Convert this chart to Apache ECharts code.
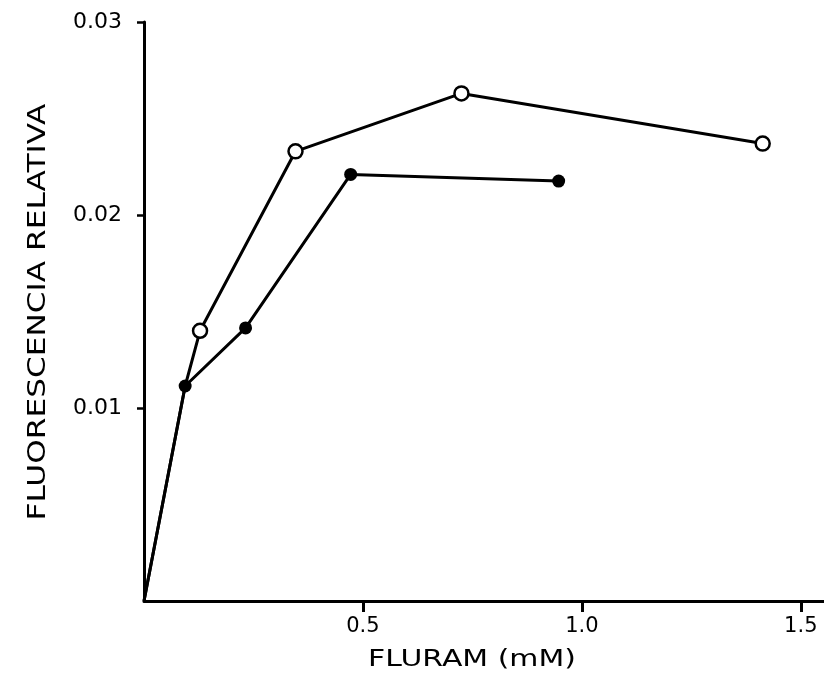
<!DOCTYPE html>
<html>
<head>
<meta charset="utf-8">
<script src="https://cdn.jsdelivr.net/npm/echarts@6/dist/echarts.min.js"></script>
<style>html,body{margin:0;padding:0;background:#fff}#c{width:824px;height:680px}</style>
</head>
<body>
<div id="c"></div>
<script>
// Open circles series (x in mM, y relative fluorescence)
var openX = [0, 0.094, 0.128, 0.346, 0.725, 1.413];
var openY = [0, 0.01114, 0.0140, 0.0233, 0.0263, 0.0237];
// Filled circles series
var filledX = [0, 0.094, 0.232, 0.472, 0.947];
var filledY = [0, 0.01114, 0.01415, 0.0221, 0.02176];
var xTicks = [0.5, 1.0, 1.5];
var yTicks = [0.01, 0.02, 0.03];
var xTickLabels = ['0.5', '1.0', '1.5'];
var yTickLabels = ['0.01', '0.02', '0.03'];
var xTitle = 'FLURAM (mM)';
var yTitle = 'FLUORESCENCIA RELATIVA';

function pairs(xs, ys, hideFirst) {
  return xs.map(function (x, i) {
    var d = { value: [x, ys[i]] };
    if (i < hideFirst) d.symbol = 'none';
    return d;
  });
}

var font = 'DejaVu Sans';
var chart = echarts.init(document.getElementById('c'));
chart.setOption({
  animation: false,
  backgroundColor: '#fff',
  grid: { left: 144, top: 22, right: 0, bottom: 79 },
  xAxis: {
    type: 'value', min: 0, max: 1.553, interval: 0.5,
    splitLine: { show: false },
    axisLine: { lineStyle: { color: '#000', width: 3 } },
    axisTick: { customValues: xTicks, length: 11, lineStyle: { color: '#000', width: 3 } },
    axisLabel: {
      customValues: xTicks, margin: 15, color: '#000', fontFamily: font, fontSize: 21,
      formatter: function (v) { var i = xTicks.indexOf(v); return i >= 0 ? xTickLabels[i] : ''; }
    }
  },
  yAxis: {
    type: 'value', min: 0, max: 0.03, interval: 0.01,
    splitLine: { show: false },
    axisLine: { lineStyle: { color: '#000', width: 3 } },
    axisTick: { customValues: yTicks, length: 7, lineStyle: { color: '#000', width: 2.5 } },
    axisLabel: {
      customValues: yTicks, margin: 22, color: '#000', fontFamily: font, fontSize: 22,
      formatter: function (v) {
        for (var i = 0; i < yTicks.length; i++) if (Math.abs(yTicks[i] - v) < 1e-9) return yTickLabels[i];
        return '';
      }
    }
  },
  graphic: [
    { type: 'text', x: 39, y: 312, rotation: Math.PI / 2, scaleX: 1.3,
      style: { text: yTitle, font: '24px "DejaVu Sans"', fill: '#000', textAlign: 'center', textVerticalAlign: 'middle' } },
    { type: 'text', x: 472, y: 660, scaleX: 1.3,
      style: { text: xTitle, font: '23px "DejaVu Sans"', fill: '#000', textAlign: 'center', textVerticalAlign: 'middle' } }
  ],
  series: [
    {
      type: 'line', data: pairs(openX, openY, 2), symbol: 'circle', symbolSize: 14,
      lineStyle: { color: '#000', width: 3 },
      itemStyle: { color: '#fff', borderColor: '#000', borderWidth: 2.5 },
      z: 2
    },
    {
      type: 'line', data: pairs(filledX, filledY, 1), symbol: 'circle', symbolSize: 13,
      lineStyle: { color: '#000', width: 3 },
      itemStyle: { color: '#000', borderColor: '#000', borderWidth: 0 },
      z: 3
    }
  ]
});
</script>
</body>
</html>
